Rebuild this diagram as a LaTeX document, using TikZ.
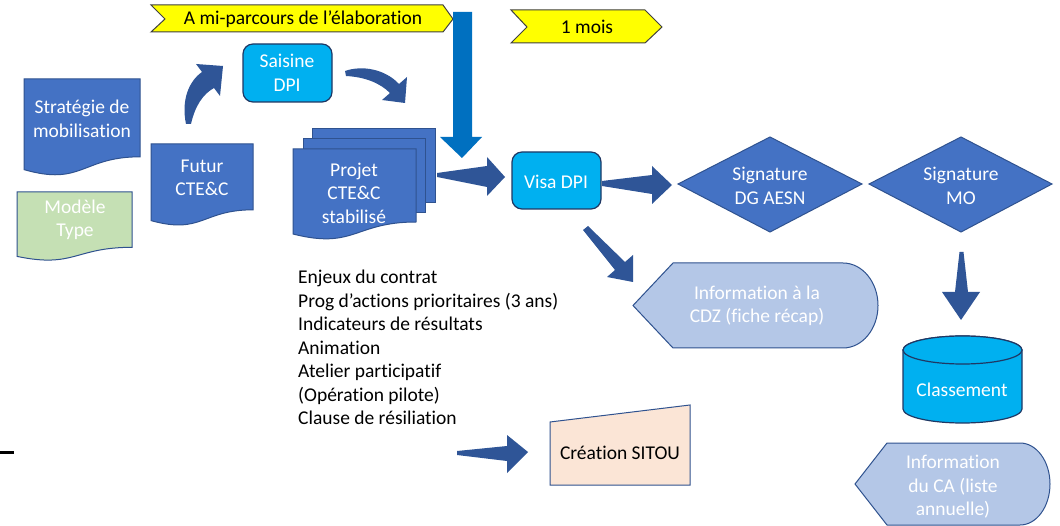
\documentclass[tikz,border=0pt]{standalone}
\usepackage{fontspec}
\setmainfont{Carlito}[Ligatures=NoCommon]
\definecolor{docblue}{HTML}{4472C4}
\definecolor{bord}{HTML}{2F528F}
\definecolor{arrowblue}{HTML}{2F5597}
\definecolor{downblue}{HTML}{0070C0}
\definecolor{cyanf}{HTML}{00B0F0}
\definecolor{cyanbord}{HTML}{1F3864}
\definecolor{lightb}{HTML}{B4C7E7}
\definecolor{greenf}{HTML}{C5E0B4}
\definecolor{peach}{HTML}{FBE5D6}
\definecolor{yell}{HTML}{FFFF00}
\definecolor{ybord}{HTML}{404040}
\begin{document}
\begin{tikzpicture}[x=1pt,y=-1pt,
  shp/.style={line width=1pt,draw=bord},
  cyanshp/.style={line width=1.2pt,draw=cyanbord,fill=cyanf},
  banner/.style={line width=1pt,draw=ybord,fill=yell},
  txt/.style={font=\fontsize{19.5}{23.5}\selectfont,align=center,inner sep=0pt},
  wtxt/.style={txt,text=white},
  blockarrow/.style={fill=arrowblue}]
\useasboundingbox (0,0) rectangle (1060,526);
\fill[white] (0,0) rectangle (1060,526);

% banners
\draw[banner] (151,5) -- (443,5) -- (453,19) -- (443,32) -- (151,32) -- (165,19) -- cycle;
\node[txt] (banA) at (303,19) {A mi-parcours de l’élaboration};
\draw[banner] (511,10) -- (645,10) -- (662,27) -- (645,43) -- (511,43) -- (527,27) -- cycle;
\node[txt] (banB) at (587,27) {1 mois};

% blue down arrow
\fill[downblue] (453,12) -- (472,12) -- (472,137) -- (482,137) -- (462,158) -- (440,137) -- (453,137) -- cycle;

% documents
\draw[shp,fill=docblue] (24,79) -- (140,79) -- (140,156.8) .. controls (82,156.8) and (82,186.4) .. (24,169.6) -- cycle;
\node[wtxt] (strat) at (82,119) {Stratégie de\\mobilisation};
\draw[shp,fill=greenf] (17,192) -- (132,192) -- (132,247.3) .. controls (74.5,247.3) and (74.5,268.4) .. (17,256.4) -- cycle;
\node[wtxt] (modele) at (75,220) {Modèle\\Type};
\draw[shp,fill=docblue] (151,144) -- (253,144) -- (253,209.8) .. controls (202,209.8) and (202,234.8) .. (151,220.6) -- cycle;
\node[wtxt] (futur) at (202,178) {Futur\\CTE\&C};

% multidocument
\draw[shp,fill=docblue] (312,129) rectangle (435,203);
\draw[shp,fill=docblue] (303,139) rectangle (425,213);
\draw[shp,fill=docblue] (293,149) -- (416,149) -- (416,222) .. controls (354.5,222) and (354.5,249.7) .. (293,234) -- cycle;
\node[wtxt] (projet) at (354,193) {Projet\\CTE\&C\\stabilisé};

% Saisine DPI
\draw[cyanshp,rounded corners=10pt] (243,44) rectangle (332,102);
\node[wtxt] (saisine) at (287,73) {Saisine\\DPI};

% curved arrows
\fill[blockarrow] (186,124) .. controls (181,100) and (189,81) .. (202,72) -- (196,64) -- (223,66) -- (220,96) -- (214,88) .. controls (203,94) and (195,106) .. (191,124) -- cycle;
\fill[blockarrow] (345,71) .. controls (362,65) and (385,69) .. (399,84) -- (407,77) -- (405,103) -- (382,100) -- (390,93) .. controls (380,83) and (365,77) .. (346,76) -- cycle;

% Projet -> Visa
\fill[blockarrow] (437,173) -- (487,166) -- (487,157) -- (505,177) -- (487,196) -- (487,187) -- (437,177) -- cycle;

% Visa DPI
\draw[cyanshp,rounded corners=10pt] (512,152) rectangle (601,209);
\node[wtxt] (visa) at (556,182) {Visa DPI};

% Visa -> DG
\fill[blockarrow] (602,181) -- (652,175) -- (652,166) -- (672,185) -- (652,204) -- (652,194) -- (602,186) -- cycle;

% diamonds
\draw[shp,fill=docblue] (678,184) -- (770,137) -- (862,184) -- (770,232) -- cycle;
\node[wtxt] (dg) at (770,186) {Signature\\DG AESN};
\draw[shp,fill=docblue] (869,184) -- (961,137) -- (1052,184) -- (961,232) -- cycle;
\node[wtxt] (mo) at (961,186) {Signature\\MO};

% Visa -> CDZ
\fill[blockarrow] (583,230) -- (615,270) -- (607,277) -- (633,282) -- (633,255) -- (625,262) -- (588,226) -- cycle;

% CDZ display
\draw[shp,fill=lightb] (633,305.5) -- (673,263) -- (843,263) arc[start angle=-90,end angle=90,x radius=35,y radius=42.5] -- (673,348) -- cycle;
\node[wtxt] (cdz) at (757,306) {Information à la\\CDZ (fiche récap)};

% MO -> Classement
\fill[blockarrow] (959.5,252) -- (963.5,252) -- (968,292) -- (980,292) -- (961,320) -- (942,292) -- (955,292) -- cycle;

% Classement cylinder
\draw[cyanshp] (903,350) -- (903,409) arc[start angle=180,end angle=0,x radius=59.5,y radius=14] -- (1022,350) arc[start angle=0,end angle=-180,x radius=59.5,y radius=14] -- cycle;
\draw[cyanshp] (962.5,350) ellipse[x radius=59.5,y radius=14];
\node[wtxt] (classement) at (962,390) {Classement};

% CA display
\draw[shp,fill=lightb] (855,484) -- (887,443) -- (1020,443) arc[start angle=-90,end angle=90,x radius=30,y radius=41] -- (887,525) -- cycle;
\node[wtxt] (ca) at (953,487) {Information\\du CA (liste\\annuelle)};

% list
\node[txt,align=left,anchor=west] (list) at (298,347.5) {Enjeux du contrat\\Prog d’actions prioritaires (3 ans)\\Indicateurs de résultats\\Animation\\Atelier participatif\\(Opération pilote)\\Clause de résiliation};

% arrow -> Création
\fill[blockarrow] (457,451) -- (507,446) -- (507,435) -- (528,452) -- (507,473) -- (507,461) -- (457,455) -- cycle;

% Création SITOU
\draw[shp,fill=peach] (550,422) -- (690,405) -- (690,485) -- (550,485) -- cycle;
\node[txt] (sitou) at (620,453) {Création SITOU};

% short line
\coordinate (l1) at (0,452.5);
\coordinate (l2) at (14,452.5);
\draw[line width=3pt] (l1) -- (l2);
\end{tikzpicture}
\end{document}
